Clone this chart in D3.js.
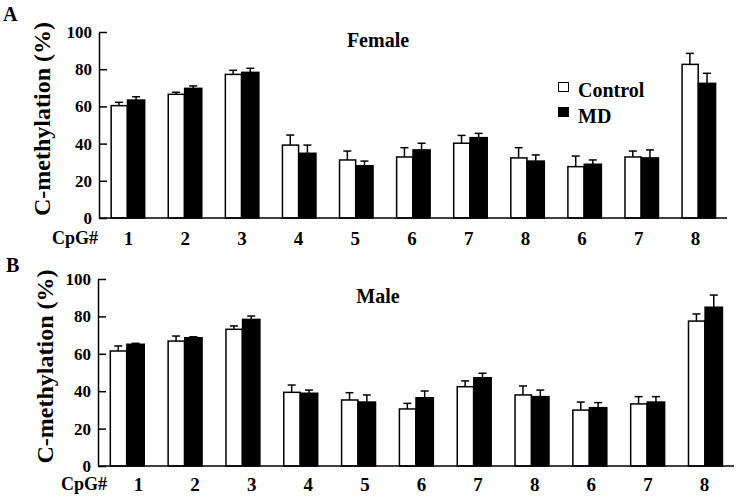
<!DOCTYPE html>
<html>
<head>
<meta charset="utf-8">
<script src="https://cdn.jsdelivr.net/npm/d3@7"></script>
<style>
  body { margin: 0; background: #fff; }
  svg { display: block; font-family: "Liberation Serif", "Times New Roman", serif; font-weight: bold; }
</style>
</head>
<body>
<svg id="chart" width="739" height="501"></svg>
<script>
// CpG site labels along x (site numbers repeat in the original)
let cpgLabels = ["1", "2", "3", "4", "5", "6", "7", "8", "6", "7", "8"];
let yTicks = [0, 20, 40, 60, 80, 100];
let seriesNames = ["Control", "MD"];

// Female (panel A)
let femaleControl    = [60.4, 66.5, 77.2, 39.2, 31.2, 32.8, 40.2, 32.3, 27.6, 32.8, 82.6];
let femaleControlErr = [1.8, 1.1, 2.2, 5.4, 4.8, 5.0, 4.2, 5.5, 5.7, 3.2, 5.9];
let femaleMD         = [63.4, 69.7, 78.3, 34.8, 28.1, 36.6, 43.2, 30.6, 28.9, 32.3, 72.4];
let femaleMDErr      = [1.8, 1.3, 2.2, 4.4, 2.5, 3.6, 2.3, 3.3, 2.3, 4.3, 5.4];

// Male (panel B)
let maleControl    = [61.5, 66.8, 73.1, 39.4, 35.3, 30.5, 42.4, 38.0, 29.9, 33.2, 77.5];
let maleControlErr = [2.7, 2.7, 1.8, 3.9, 3.9, 3.0, 3.1, 4.8, 4.3, 3.9, 3.8];
let maleMD         = [65.1, 68.6, 78.4, 38.9, 34.2, 36.5, 47.2, 37.1, 31.2, 34.2, 84.9];
let maleMDErr      = [0.5, 0.5, 1.8, 1.7, 3.8, 3.6, 2.4, 3.5, 2.7, 2.9, 6.5];

let svg = d3.select("#chart");
let fills = ["#fff", "#000"];

let panels = [
    {letter: "A", title: "Female", titleY: 47, letterY: 21,
     xRange: [99, 727], labelRange: [128, 695], yRange: [218, 32], labelY: 245,
     yTitleX: 50, series: [[femaleControl, femaleControlErr], [femaleMD, femaleMDErr]]},
    {letter: "B", title: "Male", titleY: 303, letterY: 272,
     xRange: [98, 734], labelRange: [138, 704], yRange: [466, 279], labelY: 491,
     yTitleX: 53, series: [[maleControl, maleControlErr], [maleMD, maleMDErr]]}
];

panels.forEach(drawPanel);

function drawPanel(p) {
    let idx = d3.range(cpgLabels.length);

    let x = d3.scaleBand()
        .domain(idx)
        .range(p.xRange)
        .paddingInner(0.4)
        .paddingOuter(0.2);

    let xSub = d3.scaleBand()
        .domain([0, 1])
        .range([0, x.bandwidth()]);

    let y = d3.scaleLinear()
        .domain([0, 100])
        .range(p.yRange);

    let g = svg.append("g");

    // bars
    p.series.forEach((s, si) => {
        let vals = s[0], errs = s[1];
        let sg = g.append("g");

        sg.selectAll("rect")
            .data(idx)
            .enter().append("rect")
            .attr("x", (i) => x(i) + xSub(si) + (si === 0 ? 0.75 : 0))
            .attr("width", xSub.bandwidth() - (si === 0 ? 1 : 0))
            .attr("y", (i) => y(vals[i]))
            .attr("height", (i) => y(0) - y(vals[i]))
            .attr("fill", fills[si])
            .attr("stroke", "#000")
            .attr("stroke-width", 1.5);

        let cx = (i) => x(i) + xSub(si) + xSub.bandwidth() / 2;

        sg.selectAll("line.err")
            .data(idx)
            .enter().append("line")
            .attr("class", "err")
            .attr("x1", cx).attr("x2", cx)
            .attr("y1", (i) => y(vals[i]))
            .attr("y2", (i) => y(vals[i] + errs[i]))
            .attr("stroke", "#000")
            .attr("stroke-width", 1.5);

        sg.selectAll("line.cap")
            .data(idx)
            .enter().append("line")
            .attr("class", "cap")
            .attr("x1", (i) => cx(i) - 4).attr("x2", (i) => cx(i) + 4)
            .attr("y1", (i) => y(vals[i] + errs[i]))
            .attr("y2", (i) => y(vals[i] + errs[i]))
            .attr("stroke", "#000")
            .attr("stroke-width", 1.5);
    });

    // y axis, ticks pointing inward
    let yAxis = g.append("g")
        .attr("transform", "translate(" + p.xRange[0] + ",0)")
        .call(d3.axisLeft(y).tickValues(yTicks).tickSize(-8).tickSizeOuter(0).tickPadding(7));
    yAxis.selectAll("path, line").attr("stroke", "#000").attr("stroke-width", 1.5);
    yAxis.selectAll("text")
        .attr("fill", "#000")
        .style("font-family", "Liberation Serif")
        .style("font-weight", "bold")
        .style("font-size", "17px");

    // x axis line
    g.append("line")
        .attr("x1", p.xRange[0]).attr("x2", p.xRange[1])
        .attr("y1", y(0)).attr("y2", y(0))
        .attr("stroke", "#000")
        .attr("stroke-width", 1.5);

    // x labels
    let xl = d3.scalePoint().domain(idx).range(p.labelRange);
    let xAxis = g.append("g")
        .attr("transform", "translate(0," + (p.labelY - 14) + ")")
        .call(d3.axisBottom(xl).tickSize(0).tickPadding(0).tickFormat((i) => cpgLabels[i]));
    xAxis.select(".domain").remove();
    xAxis.selectAll("text")
        .attr("dy", "0.71em")
        .attr("fill", "#000")
        .style("font-family", "Liberation Serif")
        .style("font-weight", "bold")
        .style("font-size", "19px");

    g.append("text")
        .attr("x", p.letter === "A" ? 52 : 61)
        .attr("y", p.labelY - 1)
        .style("font-size", "18px")
        .text("CpG#");

    // y title
    g.append("text")
        .attr("transform", "rotate(-90)")
        .attr("x", -(p.yRange[0] + p.yRange[1]) / 2 + 6)
        .attr("y", p.yTitleX)
        .attr("text-anchor", "middle")
        .style("font-size", "24px")
        .text("C-methylation (%)");

    // panel title and letter
    g.append("text")
        .attr("x", 378)
        .attr("y", p.titleY)
        .attr("text-anchor", "middle")
        .style("font-size", "20px")
        .text(p.title);

    g.append("text")
        .attr("x", p.letter === "A" ? 3 : 6)
        .attr("y", p.letterY)
        .style("font-size", "20px")
        .text(p.letter);
}

// legend (panel A only)
let legend = svg.append("g").attr("transform", "translate(558,82)");
seriesNames.forEach((name, i) => {
    legend.append("rect")
        .attr("x", 0.5)
        .attr("y", i * 25 + 0.5)
        .attr("width", 10)
        .attr("height", 9)
        .attr("fill", fills[i])
        .attr("stroke", "#000")
        .attr("stroke-width", 1);
    legend.append("text")
        .attr("x", 20)
        .attr("y", i * 26 + 15)
        .style("font-size", "20px")
        .text(name);
});
</script>
</body>
</html>
